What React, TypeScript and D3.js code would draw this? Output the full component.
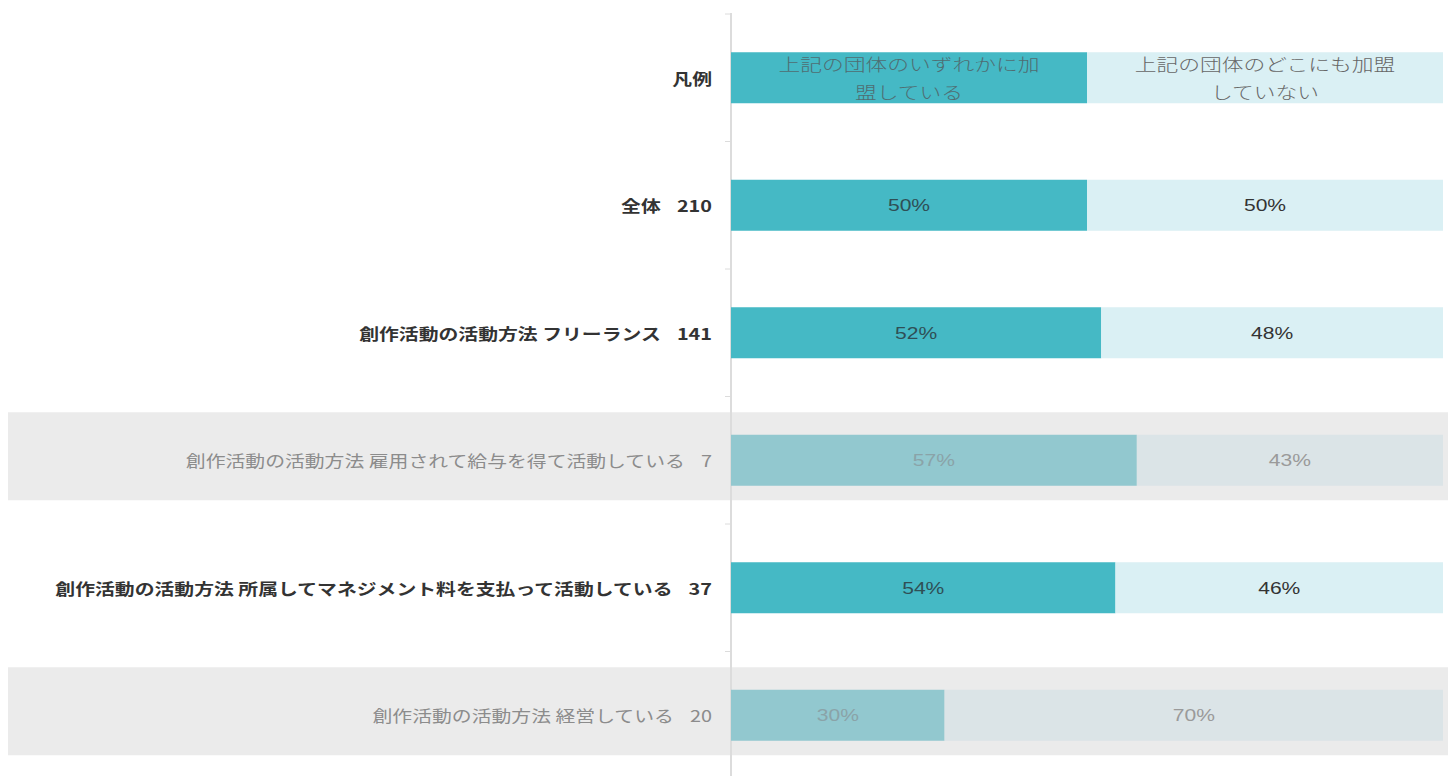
import React from 'react'
import { scaleBand, scaleLinear } from 'd3'

const categories = [
  '凡例',
  '全体',
  '創作活動の活動方法 フリーランス',
  '創作活動の活動方法 雇用されて給与を得て活動している',
  '創作活動の活動方法 所属してマネジメント料を支払って活動している',
  '創作活動の活動方法 経営している',
]
const counts = [null, 210, 141, 7, 37, 20]
const series = ['上記の団体のいずれかに加盟している', '上記の団体のどこにも加盟していない']
const joined = [50, 50, 52, 57, 54, 30]
const notJoined = [50, 50, 48, 43, 46, 70]

const W = 1448
const H = 776
const axisX = 731
const barRight = 1443
const barH = 51
const bandH = 88
const sx = 1.24 // the reference is stretched sideways

const jp = '"Noto Sans CJK JP", "Noto Sans", sans-serif'
const latin = '"Liberation Sans", Arial, sans-serif'

// wrap legend names every 12 chars
const wrap = (s: string, n = 12) => {
  const out: string[] = []
  for (let i = 0; i < s.length; i += n) out.push(s.slice(i, i + n))
  return out
}

export default function App() {
  const y = scaleBand<string>().domain(categories).range([14, 779])
  const x = scaleLinear().domain([0, 100]).range([axisX, barRight])

  const rows = categories.map((c, i) => {
    const n = counts[i]
    return {
      cat: c,
      n,
      legend: i === 0,
      muted: n !== null && n < 30,
      a: joined[i],
      b: notJoined[i],
      cy: (y(c) as number) + y.bandwidth() / 2,
    }
  })

  const tickYs = categories.map(c => y(c) as number).concat([(y(categories[categories.length - 1]) as number) + y.step()])

  return (
    <svg width={W} height={H} style={{ position: 'absolute', left: 0, top: 0, background: '#fff' }}>
      {/* grey bands behind small-n rows */}
      {rows.filter(r => r.muted).map(r => (
        <rect key={'band' + r.cat} x={8} y={r.cy - 4 - bandH / 2} width={W - 8} height={bandH} fill="#ebebeb" />
      ))}

      {/* axis */}
      <line x1={axisX} x2={axisX} y1={13} y2={H} stroke="#dcdcdc" strokeWidth={2} />
      {tickYs.map((t, i) => (
        <line key={'t' + i} x1={axisX - 6} x2={axisX} y1={t} y2={t} stroke="#dcdcdc" strokeWidth={1} />
      ))}

      {rows.map(r => {
        const c1 = r.muted ? '#92c8cf' : '#45b9c5'
        const c2 = r.muted ? '#dbe4e7' : '#daf0f4'
        const txt = r.muted ? '#9a9a9a' : '#333'
        const xa0 = x(0), xa1 = x(r.a), xb1 = x(r.a + r.b)
        return (
          <g key={r.cat}>
            <rect x={xa0} y={r.cy - barH / 2} width={xa1 - xa0} height={barH} fill={c1} />
            <rect x={xa1} y={r.cy - barH / 2} width={xb1 - xa1} height={barH} fill={c2} />

            {/* row label */}
            <text
              transform={`translate(712,${r.cy}) scale(${sx},1)`}
              textAnchor="end"
              dominantBaseline="central"
              fontFamily={jp}
              fontSize={16}
              fontWeight={r.muted ? 400 : 700}
              fill={r.muted ? '#8c8c8c' : '#333'}
            >
              {r.cat}
              {r.n !== null && <tspan dx={13}>{r.n}</tspan>}
            </text>

            {r.legend ? (
              [series[0], series[1]].map((s, k) => {
                const cx = k === 0 ? (xa0 + xa1) / 2 : (xa1 + xb1) / 2
                const lines = wrap(s)
                return (
                  <g key={s}>
                    {lines.map((ln, j) => (
                      <text
                        key={j}
                        transform={`translate(${cx},${r.cy + (j - (lines.length - 1) / 2) * 28}) scale(1.28,1)`}
                        textAnchor="middle"
                        dominantBaseline="central"
                        fontFamily={jp}
                        fontSize={17}
                        fontWeight={300}
                        fill={k === 0 ? '#4f6d72' : '#666'}
                      >
                        {ln}
                      </text>
                    ))}
                  </g>
                )
              })
            ) : (
              <>
                <text
                  transform={`translate(${(xa0 + xa1) / 2},${r.cy}) scale(${sx},1)`}
                  textAnchor="middle"
                  dominantBaseline="central"
                  fontFamily={latin}
                  fontSize={17}
                  fill={r.muted ? '#8aa3a8' : '#2f4f55'}
                >
                  {r.a}%
                </text>
                <text
                  transform={`translate(${(xa1 + xb1) / 2},${r.cy}) scale(${sx},1)`}
                  textAnchor="middle"
                  dominantBaseline="central"
                  fontFamily={latin}
                  fontSize={17}
                  fill={txt}
                >
                  {r.b}%
                </text>
              </>
            )}
          </g>
        )
      })}
    </svg>
  )
}
